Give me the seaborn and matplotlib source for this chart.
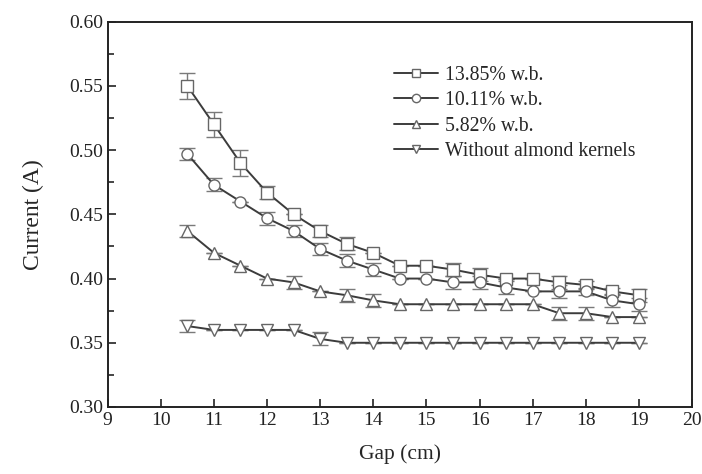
import matplotlib
matplotlib.use("Agg")
import matplotlib.pyplot as plt
from matplotlib.ticker import MultipleLocator
import numpy as np
import pandas as pd
import seaborn as sns

gap = [10.5, 11, 11.5, 12, 12.5, 13, 13.5, 14, 14.5, 15, 15.5, 16, 16.5, 17, 17.5, 18, 18.5, 19]

mc_1385 = [0.550, 0.520, 0.490, 0.467, 0.450, 0.437, 0.427, 0.420, 0.410, 0.410,
           0.407, 0.403, 0.400, 0.400, 0.397, 0.395, 0.390, 0.387]
err_1385 = [0.010, 0.010, 0.010, 0.005, 0.0, 0.005, 0.005, 0.0, 0.0, 0.0,
            0.005, 0.005, 0.0, 0.0, 0.005, 0.003, 0.003, 0.005]

mc_1011 = [0.497, 0.473, 0.460, 0.447, 0.437, 0.423, 0.414, 0.407, 0.400, 0.400,
           0.397, 0.397, 0.393, 0.390, 0.390, 0.390, 0.383, 0.380]
err_1011 = [0.005, 0.005, 0.0, 0.005, 0.005, 0.005, 0.005, 0.005, 0.0, 0.0,
            0.005, 0.005, 0.005, 0.0, 0.005, 0.003, 0.005, 0.005]

mc_582 = [0.437, 0.420, 0.410, 0.400, 0.397, 0.390, 0.387, 0.383, 0.380, 0.380,
          0.380, 0.380, 0.380, 0.380, 0.373, 0.373, 0.370, 0.370]
err_582 = [0.005, 0.0, 0.0, 0.0, 0.005, 0.0, 0.005, 0.005, 0.0, 0.0,
           0.0, 0.0, 0.0, 0.0, 0.005, 0.005, 0.0, 0.0]

no_kernel = [0.363, 0.360, 0.360, 0.360, 0.360, 0.353, 0.350, 0.350, 0.350, 0.350,
             0.350, 0.350, 0.350, 0.350, 0.350, 0.350, 0.350, 0.350]
err_none = [0.005, 0.0, 0.0, 0.0, 0.0, 0.005, 0.0, 0.0, 0.0, 0.0,
            0.0, 0.0, 0.0, 0.0, 0.0, 0.0, 0.0, 0.0]

labels = ["13.85% w.b.", "10.11% w.b.", "5.82% w.b.", "Without almond kernels"]
values = [mc_1385, mc_1011, mc_582, no_kernel]
errors = [err_1385, err_1011, err_582, err_none]
markers = ["s", "o", "^", "v"]

df = pd.concat([pd.DataFrame({"gap": gap, "current": v, "err": e, "label": l})
                for v, e, l in zip(values, errors, labels)])

sns.set_style("ticks")
plt.rcParams["font.family"] = ["Liberation Serif", "DejaVu Serif"]

fig = plt.figure(figsize=(7.02, 4.74), dpi=100)
ax = fig.add_axes([0.1534, 0.1414, 0.8324, 0.8128])

line_c = "#3c3c3c"
mark_c = "#666666"

# error bars first, then the lines/markers on top
for l in labels:
    d = df[df["label"] == l]
    ax.errorbar(d["gap"], d["current"], yerr=d["err"], fmt="none",
                ecolor="#7a7a7a", elinewidth=1.0, capsize=6, capthick=1.0, zorder=2)

sns.lineplot(data=df, x="gap", y="current", hue="label", style="label",
             hue_order=labels, style_order=labels,
             palette=[line_c] * 4, markers=markers, dashes=False,
             markersize=8, markerfacecolor="white", markeredgecolor=mark_c,
             markeredgewidth=1.0, linewidth=1.4, ax=ax, zorder=3)

ax.set_xlim(9, 20)
ax.set_ylim(0.30, 0.60)
ax.xaxis.set_major_locator(MultipleLocator(1))
ax.yaxis.set_major_locator(MultipleLocator(0.05))
ax.yaxis.set_minor_locator(MultipleLocator(0.025))
ax.yaxis.set_major_formatter(matplotlib.ticker.FormatStrFormatter("%.2f"))
ax.tick_params(axis="both", which="major", direction="in", length=6, width=1.2,
               labelsize=14, colors="#222222")
ax.tick_params(axis="y", which="minor", direction="in", length=4, width=1.2)
for sp in ax.spines.values():
    sp.set_linewidth(1.4)
    sp.set_color("#222222")

ax.set_xlabel("Gap (cm)", fontsize=15.5, labelpad=11)
ax.set_ylabel("Current (A)", fontsize=17, labelpad=18)

leg = ax.legend(loc="upper left", bbox_to_anchor=(0.49, 0.885), frameon=False,
                fontsize=14.2, handlelength=2.25, handletextpad=0.35,
                labelspacing=0.32, borderaxespad=0, borderpad=0)
for h in leg.legend_handles:
    h.set_markersize(6)

fig.savefig("out.png", dpi=100)
